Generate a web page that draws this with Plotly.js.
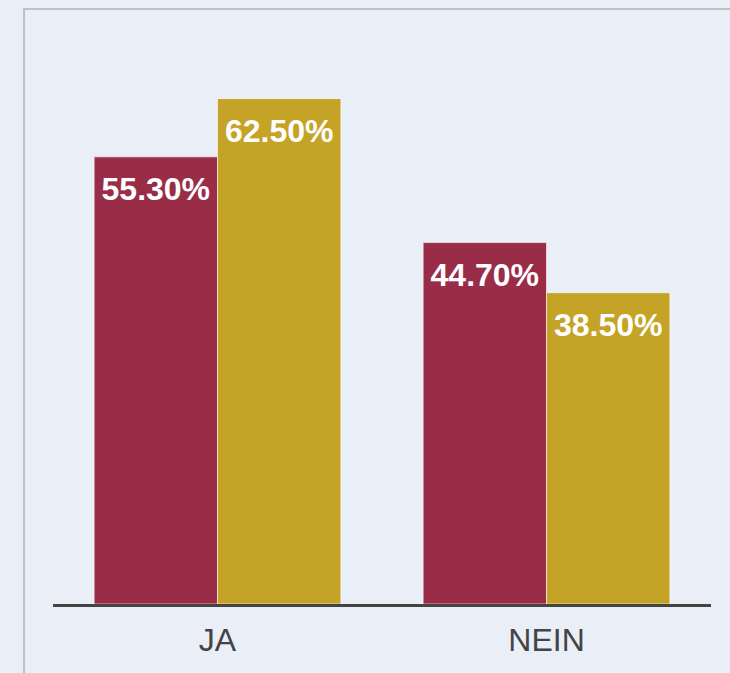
<!DOCTYPE html>
<html>
<head>
<meta charset="utf-8">
<script src="https://cdn.plot.ly/plotly-3.0.1.min.js"></script>
<style>html,body{margin:0;padding:0;background:#eaeef6;}#chart{width:730px;height:673px;}</style>
</head>
<body>
<div id="chart"></div>
<script>
const categories = ["JA", "NEIN"];
const series1Values = [55.3, 44.7];
const series2Values = [62.5, 38.5];
const series1Name = "Serie 1";
const series2Name = "Serie 2";
const colors = ["#992d48", "#c5a326"];

function fmt(v){ return v.toFixed(2) + "%"; }

const font = "Liberation Sans, Arial, sans-serif";
function barTrace(name, vals, color, grp){
  return {type:"bar", name:name, x:categories, y:vals, offsetgroup:grp,
   marker:{color:color, line:{color:"rgba(255,255,255,0.6)", width:1}},
   hoverinfo:"none", showlegend:false};
}
function labelTrace(name, vals, grp){
  return {type:"scatter", mode:"markers+text", name:name+" labels", x:categories, y:vals,
   offsetgroup:grp, text:vals.map(fmt), textposition:"bottom center",
   textfont:{family:font, size:32, color:"#ffffff", weight:"bold"},
   marker:{size:29, opacity:0, color:"rgba(0,0,0,0)"}, cliponaxis:false,
   hoverinfo:"none", showlegend:false};
}
const traces = [
  barTrace(series1Name, series1Values, colors[0], "g1"),
  barTrace(series2Name, series2Values, colors[1], "g2"),
  labelTrace(series1Name, series1Values, "g1"),
  labelTrace(series2Name, series2Values, "g2")
];

const layout = {
  width:730, height:673,
  margin:{l:53, r:19, t:38, b:69},
  paper_bgcolor:"#eaeef6", plot_bgcolor:"#eaeef6",
  barmode:"group", bargap:0.25, bargroupgap:0,
  scattermode:"group", scattergap:0.25,
  showlegend:false,
  font:{family:font, color:"#444444"},
  xaxis:{type:"category", range:[-0.5,1.5], showline:true, linecolor:"#444444", linewidth:3,
         ticks:"", showgrid:false, zeroline:false, ticklabelstandoff:6,
         tickfont:{size:32, color:"#444444"}},
  yaxis:{range:[0,70], visible:false, showgrid:false, zeroline:false},
  shapes:[{type:"rect", xref:"paper", yref:"paper", x0:-0.044, x1:1.3, y0:-0.5, y1:1.0512,
           line:{color:"#c0c0c0", width:2}, fillcolor:"rgba(0,0,0,0)", layer:"below"}]
};

Plotly.newPlot("chart", traces, layout, {displayModeBar:false, staticPlot:true});
</script>
</body>
</html>
